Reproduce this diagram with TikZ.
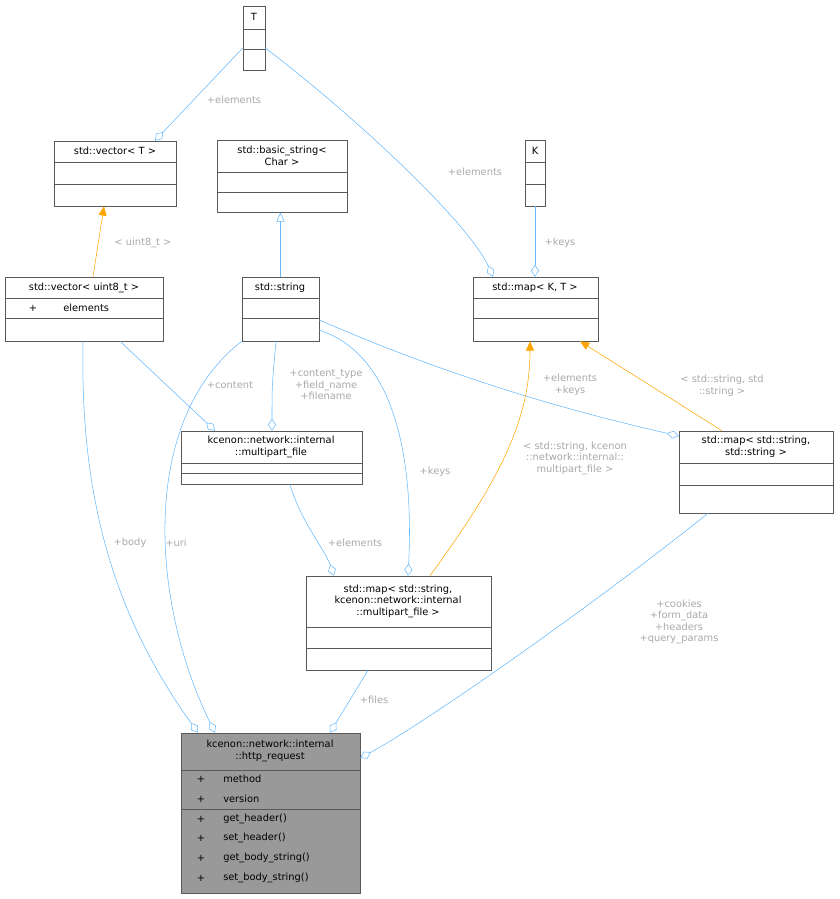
\documentclass[tikz,border=0pt]{standalone}
\usepackage{fontspec}
\setmainfont{DejaVu Sans}
\usetikzlibrary{arrows.meta}
\definecolor{edgeblue}{HTML}{63B8FF}
\definecolor{tmplorange}{HTML}{FFA500}
\definecolor{lblgray}{HTML}{A8A8A8}
\definecolor{boxgray}{HTML}{999999}
\tikzset{
  x=0.75pt, y=-0.75pt,
  cls/.style={draw=black!65, fill=white, inner sep=0pt}, % class box
  sep/.style={draw=black!65},                         % compartment line
  txt/.style={font=\fontsize{7.4}{8.6}\selectfont, inner sep=0pt, align=center},
  lbl/.style={txt, text=lblgray},                       % edge label
  agg/.style={draw=edgeblue, {Diamond[open, length=9pt, width=6pt]}-},
  inh/.style={draw=edgeblue, -{Triangle[open, length=7pt, width=6pt]}},
  tmpl/.style={draw=tmplorange, -{Triangle[length=7pt, width=6pt, fill=tmplorange]}},
}
% class box: name, x1, y1, x2, y2, fill
\newcommand{\umlbox}[6]{%
  \node[cls, fill=#6, minimum width={(#4-#2)*0.75pt}, minimum height={(#5-#3)*0.75pt}]
    (#1) at ({(#2+#4)/2},{(#3+#5)/2}) {};}
\begin{document}
\begin{tikzpicture}
\useasboundingbox (0,0) rectangle (839,899);

\umlbox{T}{243}{6}{265}{70}{white}
\draw[sep] (243,29) -- (265,29) (243,49) -- (265,49);
\node[txt] at (254,17) {T};

\umlbox{vecT}{54}{141}{176}{206}{white}
\draw[sep] (54,162) -- (176,162) (54,184) -- (176,184);
\node[txt] at (115,151) {std::vector< T >};

\umlbox{bstr}{217}{140}{347}{212}{white}
\draw[sep] (217,172) -- (347,172) (217,192) -- (347,192);
\node[txt] at (282,156) {std::basic\_string<\\Char >};

\umlbox{K}{525}{140}{545}{206}{white}
\draw[sep] (525,162) -- (545,162) (525,184) -- (545,184);
\node[txt] at (535,151) {K};

\umlbox{vu8}{5}{277}{163}{341}{white}
\draw[sep] (5,298) -- (163,298) (5,318) -- (163,318);
\node[txt] at (84,288) {std::vector< uint8\_t >};
\node[txt] at (33,308) {+};
\node[txt, anchor=west] at (63,308) {elements};

\umlbox{str}{242}{277}{319}{341}{white}
\draw[sep] (242,298) -- (319,298) (242,318) -- (319,318);
\node[txt] at (280,288) {std::string};

\umlbox{mapKT}{473}{277}{598}{341}{white}
\draw[sep] (473,298) -- (598,298) (473,318) -- (598,318);
\node[txt] at (535,288) {std::map< K, T >};

\umlbox{mpf}{181}{431}{362}{484}{white}
\draw[sep] (181,463) -- (362,463) (181,473) -- (362,473);
\node[txt] at (271,447) {kcenon::network::internal\\::multipart\_file};

\umlbox{mss}{679}{431}{833}{513}{white}
\draw[sep] (679,463) -- (833,463) (679,485) -- (833,485);
\node[txt] at (756,447) {std::map< std::string,\\std::string >};

\umlbox{msm}{306}{576}{491}{670}{white}
\draw[sep] (306,627) -- (491,627) (306,648) -- (491,648);
\node[txt] at (398,601) {std::map< std::string,\\kcenon::network::internal\\::multipart\_file >};

\umlbox{http}{181}{733}{360}{893}{boxgray}
\draw[sep] (181,770) -- (360,770) (181,809) -- (360,809);
\node[txt] at (270,751) {kcenon::network::internal\\::http\_request};
\foreach \y/\m in {779/method, 799/version, 819/get\_header(), 838/set\_header(),
                   858/get\_body\_string(), 878/set\_body\_string()} {
  \node[txt] at (201,\y) {+};
  \node[txt, anchor=west] at (223,\y) {\m};
}

% edges
\draw[agg] (155,0 |- vecT.north) -- (T.west |- 0,48);
\node[lbl] at (234,100) {+elements};
\draw[agg] (493,0 |- mapKT.north) .. controls (470,225) and (360,120) .. (T.east |- 0,48);
\node[lbl] at (475,172) {+elements};
\draw[agg] (K.south |- mapKT.north) -- (K.south);
\node[lbl] at (560,243) {+keys};
\draw[tmpl] (93,0 |- vu8.north) -- (104,0 |- vecT.south);
\node[lbl] at (143,243) {< uint8\_t >};
\draw[inh] (str.north) -- (str.north |- bstr.south);
\draw[agg] (215,0 |- mpf.north) -- (120,0 |- vu8.south);
\node[lbl] at (230,385) {+content};
\draw[agg] (272,0 |- mpf.north) .. controls (272,385) .. (276,0 |- str.south);
\node[lbl] at (326,385) {+content\_type\\+field\_name\\+filename};
\draw[agg] (mss.west |- 0,436) .. controls (610,420) and (480,390) .. (str.east |- 0,320);
\draw[agg] (408,0 |- msm.north) .. controls (412,500) and (410,360) .. (str.east |- 0,330);
\node[lbl] at (435,472) {+keys};
\draw[tmpl] (430,0 |- msm.north) .. controls (500,480) and (530,420) .. (530,0 |- mapKT.south);
\node[lbl] at (570,385) {+elements\\+keys};
\node[lbl] at (575,458) {< std::string, kcenon\\::network::internal::\\multipart\_file >};
\draw[tmpl] (722,0 |- mss.north) -- (580,0 |- mapKT.south);
\node[lbl] at (722,386) {< std::string, std\\::string >};
\draw[agg] (334,0 |- msm.north) .. controls (325,550) and (300,520) .. (290,0 |- mpf.south);
\node[lbl] at (355,543) {+elements};
\draw[agg] (198,0 |- http.north) .. controls (110,610) and (80,490) .. (83,0 |- vu8.south);
\node[lbl] at (130,543) {+body};
\draw[agg] (215,0 |- http.north) .. controls (150,600) and (140,420) .. (str.south west);
\node[lbl] at (176,543) {+uri};
\draw[agg] (330,0 |- http.north) -- (368,0 |- msm.south);
\node[lbl] at (374,700) {+files};
\draw[agg] (http.east |- 0,758) .. controls (430,720) and (600,600) .. (708,0 |- mss.south);
\node[lbl] at (679,622) {+cookies\\+form\_data\\+headers\\+query\_params};
\end{tikzpicture}
\end{document}
